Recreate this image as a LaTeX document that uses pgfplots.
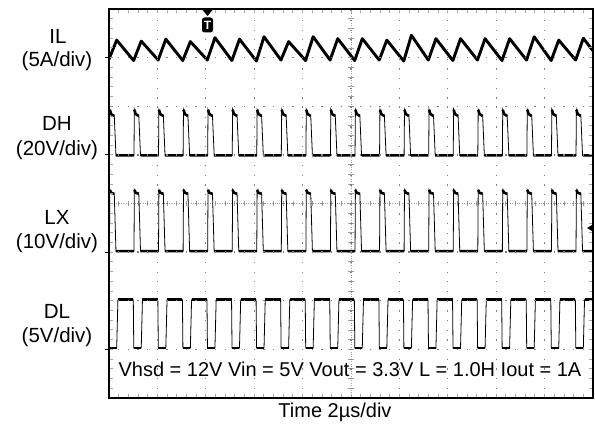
\documentclass[border=0pt]{standalone}
\usepackage{pgfplots}
\usepackage{pgfplotstable}
\pgfplotsset{compat=1.18}
\usepackage{fontspec}
\setmainfont{Liberation Sans}

\pgfplotstableread{
x y
0 6.97
0.159 7.36
0.509 6.94
0.666 7.34
1.016 6.95
1.174 7.38
1.524 6.94
1.681 7.33
2.031 6.95
2.189 7.41
2.539 6.94
2.696 7.38
3.046 6.93
3.203 7.43
3.553 6.95
3.711 7.33
4.061 6.94
4.218 7.43
4.568 6.95
4.726 7.39
5.076 6.94
5.233 7.39
5.583 6.95
5.740 7.36
6.090 6.93
6.248 7.46
6.598 6.95
6.755 7.39
7.105 6.94
7.263 7.39
7.613 6.95
7.770 7.39
8.120 6.94
8.277 7.39
8.627 6.95
8.785 7.43
9.135 6.94
9.292 7.36
9.642 6.95
9.800 7.40
10 7.14
}\ILdata

\pgfplotstableread{
x dh lx
0 4.99 3.02
0.009 4.99 3.02
nan nan nan
0.017 5.93 4.28
0.044 5.84 4.22
0.109 5.80 4.20
nan nan nan
0.144 4.99 3.02
0.516 4.99 3.02
nan nan nan
0.524 5.93 4.28
0.551 5.84 4.22
0.616 5.80 4.20
nan nan nan
0.651 4.99 3.02
1.023 4.99 3.02
nan nan nan
1.031 5.93 4.28
1.058 5.84 4.22
1.123 5.80 4.20
nan nan nan
1.158 4.99 3.02
1.531 4.99 3.02
nan nan nan
1.539 5.93 4.28
1.566 5.84 4.22
1.631 5.80 4.20
nan nan nan
1.666 4.99 3.02
2.038 4.99 3.02
nan nan nan
2.046 5.93 4.28
2.073 5.84 4.22
2.138 5.80 4.20
nan nan nan
2.173 4.99 3.02
2.546 4.99 3.02
nan nan nan
2.554 5.93 4.28
2.581 5.84 4.22
2.646 5.80 4.20
nan nan nan
2.681 4.99 3.02
3.053 4.99 3.02
nan nan nan
3.061 5.93 4.28
3.088 5.84 4.22
3.153 5.80 4.20
nan nan nan
3.188 4.99 3.02
3.560 4.99 3.02
nan nan nan
3.568 5.93 4.28
3.595 5.84 4.22
3.660 5.80 4.20
nan nan nan
3.695 4.99 3.02
4.068 4.99 3.02
nan nan nan
4.076 5.93 4.28
4.103 5.84 4.22
4.168 5.80 4.20
nan nan nan
4.203 4.99 3.02
4.575 4.99 3.02
nan nan nan
4.583 5.93 4.28
4.610 5.84 4.22
4.675 5.80 4.20
nan nan nan
4.710 4.99 3.02
5.083 4.99 3.02
nan nan nan
5.091 5.93 4.28
5.118 5.84 4.22
5.183 5.80 4.20
nan nan nan
5.218 4.99 3.02
5.590 4.99 3.02
nan nan nan
5.598 5.93 4.28
5.625 5.84 4.22
5.690 5.80 4.20
nan nan nan
5.725 4.99 3.02
6.097 4.99 3.02
nan nan nan
6.105 5.93 4.28
6.132 5.84 4.22
6.197 5.80 4.20
nan nan nan
6.232 4.99 3.02
6.605 4.99 3.02
nan nan nan
6.613 5.93 4.28
6.640 5.84 4.22
6.705 5.80 4.20
nan nan nan
6.740 4.99 3.02
7.112 4.99 3.02
nan nan nan
7.120 5.93 4.28
7.147 5.84 4.22
7.212 5.80 4.20
nan nan nan
7.247 4.99 3.02
7.620 4.99 3.02
nan nan nan
7.628 5.93 4.28
7.655 5.84 4.22
7.720 5.80 4.20
nan nan nan
7.755 4.99 3.02
8.127 4.99 3.02
nan nan nan
8.135 5.93 4.28
8.162 5.84 4.22
8.227 5.80 4.20
nan nan nan
8.262 4.99 3.02
8.634 4.99 3.02
nan nan nan
8.642 5.93 4.28
8.669 5.84 4.22
8.734 5.80 4.20
nan nan nan
8.769 4.99 3.02
9.142 4.99 3.02
nan nan nan
9.150 5.93 4.28
9.177 5.84 4.22
9.242 5.80 4.20
nan nan nan
9.277 4.99 3.02
9.649 4.99 3.02
nan nan nan
9.657 5.93 4.28
9.684 5.84 4.22
9.749 5.80 4.20
nan nan nan
9.784 4.99 3.02
10 4.99 3.02
}\SWdata

\pgfplotstableread{
x y
0 1.03
0.159 1.03
nan nan
0.184 2.02
0.502 2.02
nan nan
0.512 1.03
0.666 1.03
nan nan
0.691 2.02
1.009 2.02
nan nan
1.019 1.03
1.174 1.03
nan nan
1.199 2.02
1.517 2.02
nan nan
1.527 1.03
1.681 1.03
nan nan
1.706 2.02
2.024 2.02
nan nan
2.034 1.03
2.189 1.03
nan nan
2.214 2.02
2.532 2.02
nan nan
2.542 1.03
2.696 1.03
nan nan
2.721 2.02
3.039 2.02
nan nan
3.049 1.03
3.203 1.03
nan nan
3.228 2.02
3.546 2.02
nan nan
3.556 1.03
3.711 1.03
nan nan
3.736 2.02
4.054 2.02
nan nan
4.064 1.03
4.218 1.03
nan nan
4.243 2.02
4.561 2.02
nan nan
4.571 1.03
4.726 1.03
nan nan
4.751 2.02
5.069 2.02
nan nan
5.079 1.03
5.233 1.03
nan nan
5.258 2.02
5.576 2.02
nan nan
5.586 1.03
5.740 1.03
nan nan
5.765 2.02
6.083 2.02
nan nan
6.093 1.03
6.248 1.03
nan nan
6.273 2.02
6.591 2.02
nan nan
6.601 1.03
6.755 1.03
nan nan
6.780 2.02
7.098 2.02
nan nan
7.108 1.03
7.263 1.03
nan nan
7.288 2.02
7.606 2.02
nan nan
7.616 1.03
7.770 1.03
nan nan
7.795 2.02
8.113 2.02
nan nan
8.123 1.03
8.277 1.03
nan nan
8.302 2.02
8.620 2.02
nan nan
8.630 1.03
8.785 1.03
nan nan
8.810 2.02
9.128 2.02
nan nan
9.138 1.03
9.292 1.03
nan nan
9.317 2.02
9.635 2.02
nan nan
9.645 1.03
9.800 1.03
nan nan
9.825 2.02
10 2.02
}\DLdata

\begin{document}
\begin{tikzpicture}
\useasboundingbox (0pt,0pt) rectangle (595pt,424pt);
\begin{axis}[
  at={(109pt,26pt)}, anchor=south west,
  scale only axis, width=484pt, height=389pt,
  xmin=0, xmax=10, ymin=0, ymax=8,
  xtick={0,...,10}, ytick={0,...,8},
  minor x tick num=4, minor y tick num=4,
  xticklabels={}, yticklabels={},
  tick align=inside,
  major tick length=4pt, minor tick length=4pt,
  tick style={gray!70, line width=0.9pt},
  grid=major,
  major grid style={gray, line width=1.3pt, dash pattern=on 1.3pt off 8.38pt, dash phase=0.65pt},
  axis line style={black, line width=2.4pt},
  axis on top=true,
]
% centre cross lines of the graticule
\draw[gray!75, line width=0.8pt, dash pattern=on 0.8pt off 1.6pt] (axis cs:5,0) -- (axis cs:5,8);
\draw[gray!75, line width=0.8pt, dash pattern=on 0.8pt off 1.6pt] (axis cs:0,4) -- (axis cs:10,4);
\pgfplotsinvokeforeach{0,0.2,...,10}{\draw[gray!75, line width=0.8pt] (axis cs:#1,3.94) -- (axis cs:#1,4.06);}
\pgfplotsinvokeforeach{0,0.2,...,8}{\draw[gray!75, line width=0.8pt] (axis cs:4.94,#1) -- (axis cs:5.06,#1);}

% IL
\addplot[black, line width=2.9pt, line join=round, line cap=round] table[x=x,y=y] {\ILdata};
% DH
\addplot[black, line width=0.8pt, unbounded coords=discard] table[x=x,y=dh] {\SWdata};
\addplot[black, line width=2.6pt, unbounded coords=jump, line join=round] table[x=x,y=dh] {\SWdata};
% LX
\addplot[black, line width=0.8pt, unbounded coords=discard] table[x=x,y=lx] {\SWdata};
\addplot[black, line width=2.6pt, unbounded coords=jump, line join=round] table[x=x,y=lx] {\SWdata};
% DL
\addplot[black, line width=0.8pt, unbounded coords=discard] table[x=x,y=y] {\DLdata};
\addplot[black, line width=2.6pt, unbounded coords=jump, line join=round] table[x=x,y=y] {\DLdata};
\end{axis}

% trigger marker
\fill[black] (202.5pt,414pt) -- (212.5pt,414pt) -- (207.5pt,408pt) -- cycle;
\node[fill=black, text=white, rounded corners=2.5pt, inner sep=0pt, minimum width=11pt, minimum height=15pt,
      font=\bfseries\fontsize{12}{12}\selectfont] at (207.5pt,399pt) {T};
% right level marker
\fill[black] (587pt,196pt) -- (592pt,199pt) -- (592pt,193pt) -- cycle;
% channel reference marks
\foreach \yy in {366,269,172,75} {\draw[black, line width=1pt] (105pt,\yy pt) -- (109pt,\yy pt);}

% channel labels
\begin{scope}[every node/.style={anchor=base, font=\fontsize{20.5}{24}\selectfont, inner sep=0pt}]
\node at (58pt,380pt) {IL};
\node at (57pt,357pt) {(5A/div)};
\node at (57pt,293pt) {DH};
\node at (57pt,269pt) {(20V/div)};
\node at (57pt,200pt) {LX};
\node at (57pt,176pt) {(10V/div)};
\node at (57pt,106pt) {DL};
\node at (57pt,82pt) {(5V/div)};
\end{scope}
\begin{scope}[every node/.style={anchor=base, font=\fontsize{20}{24}\selectfont, inner sep=0pt}]
\node at (350pt,48pt) {Vhsd = 12V Vin = 5V Vout = 3.3V L = 1.0H Iout = 1A};
\node at (335pt,7pt) {Time 2µs/div};
\end{scope}
\end{tikzpicture}
\end{document}
